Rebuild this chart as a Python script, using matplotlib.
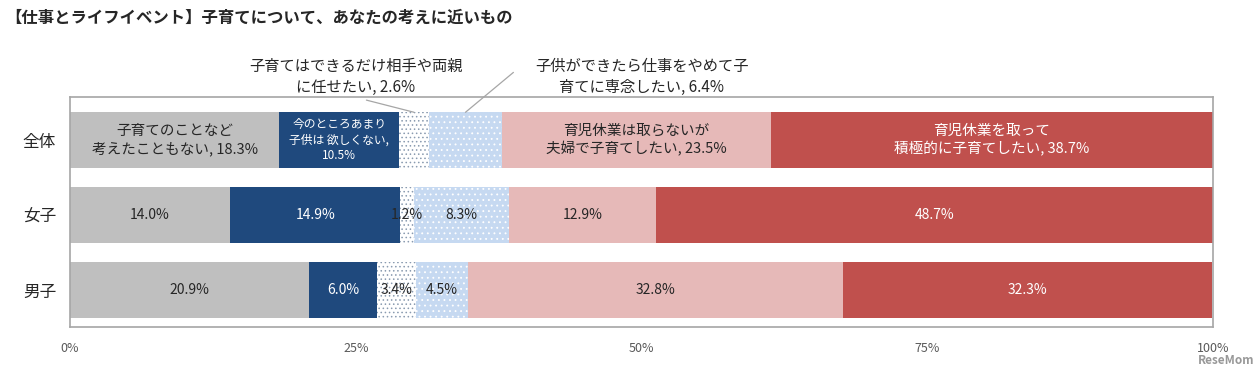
import matplotlib.pyplot as plt
import numpy as np

plt.rcParams['font.family'] = ['Noto Sans CJK JP', 'DejaVu Sans']
plt.rcParams['hatch.linewidth'] = 0.6

# data
groups = ['全体', '女子', '男子']
answers = ['子育てのことなど考えたこともない',
           '今のところあまり子供は欲しくない',
           '子育てはできるだけ相手や両親に任せたい',
           '子供ができたら仕事をやめて子育てに専念したい',
           '育児休業は取らないが夫婦で子育てしたい',
           '育児休業を取って積極的に子育てしたい']
values = np.array([
    [18.3, 10.5, 2.6, 6.4, 23.5, 38.7],
    [14.0, 14.9, 1.2, 8.3, 12.9, 48.7],
    [20.9, 6.0, 3.4, 4.5, 32.8, 32.3],
])
# labels written inside the 全体 bar
total_labels = ['子育てのことなど\n考えたこともない, 18.3%',
                '今のところあまり\n子供は 欲しくない,\n10.5%',
                '', '',
                '育児休業は取らないが\n夫婦で子育てしたい, 23.5%',
                '育児休業を取って\n積極的に子育てしたい, 38.7%']

colors = ['#bfbfbf', '#1f497d', '#ffffff', '#c6d9f1', '#e6b9b8', '#c0504d']
hatches = [None, None, '....', '...', None, None]
hatch_cols = [None, None, '#8a9bb0', '#ffffff', None, None]
text_cols = ['#262626', 'white', '#262626', '#262626', '#262626', 'white']

fig = plt.figure(figsize=(12.57, 3.65), dpi=100)
ax = fig.add_axes([0.0557, 0.1041, 0.9093, 0.630])

y = np.arange(len(groups))
left = np.zeros(len(groups))
for j in range(len(answers)):
    if hatches[j]:
        ax.barh(y, values[:, j], left=left, height=0.747, color=colors[j],
                edgecolor=hatch_cols[j], linewidth=0, hatch=hatches[j])
    else:
        ax.barh(y, values[:, j], left=left, height=0.747, color=colors[j],
                linewidth=0)
    for i in range(len(groups)):
        cx = left[i] + values[i, j] / 2
        if i == 0:
            if total_labels[j]:
                fs = 8.5 if j == 1 else 10.5
                ax.text(cx, y[i], total_labels[j], ha='center', va='center',
                        color=text_cols[j], fontsize=fs, linespacing=1.25)
        else:
            ax.text(cx, y[i], f'{values[i, j]:.1f}%', ha='center', va='center',
                    color=text_cols[j], fontsize=10)
    left += values[:, j]

# callouts for the two thin segments of 全体
x3 = values[0, :2].sum() + values[0, 2] / 2
x4 = values[0, :3].sum() + values[0, 3] / 2
ax.annotate('子育てはできるだけ相手や両親\nに任せたい, 2.6%', xy=(x3, -0.37),
            xytext=(25.0, -0.84), ha='center', va='center', fontsize=11,
            color='#262626', annotation_clip=False, linespacing=1.35,
            arrowprops=dict(arrowstyle='-', color='#a6a6a6', lw=0.9,
                            shrinkA=3, shrinkB=0, relpos=(0.48, 0.0)))
ax.annotate('子供ができたら仕事をやめて子\n育てに専念したい, 6.4%', xy=(x4, -0.37),
            xytext=(50.0, -0.84), ha='center', va='center', fontsize=11,
            color='#262626', annotation_clip=False, linespacing=1.35,
            arrowprops=dict(arrowstyle='-', color='#a6a6a6', lw=0.9,
                            shrinkA=0, shrinkB=0, relpos=(-0.1, 0.62)))

ax.set_xlim(0, 100)
ax.set_ylim(2.493, -0.573)
ax.set_yticks(y)
ax.set_yticklabels(groups, fontsize=12, color='#262626')
ax.set_xticks([0, 25, 50, 75, 100])
ax.set_xticklabels(['0%', '25%', '50%', '75%', '100%'], fontsize=9, color='#595959')
ax.tick_params(length=0)
ax.tick_params(axis='x', pad=11)
ax.tick_params(axis='y', pad=10)
for s in ax.spines.values():
    s.set_color('#a6a6a6')
    s.set_linewidth(1.2)

fig.text(0.004, 0.95, '【仕事とライフイベント】子育てについて、あなたの考えに近いもの',
         fontsize=11.8, fontweight='bold', color='#262626', va='center')
fig.text(0.998, 0.012, 'ReseMom', fontsize=8.5, fontweight='bold', color='#7f7f7f',
         ha='right', va='center', alpha=0.8)

fig.savefig('out.png', dpi=100)
